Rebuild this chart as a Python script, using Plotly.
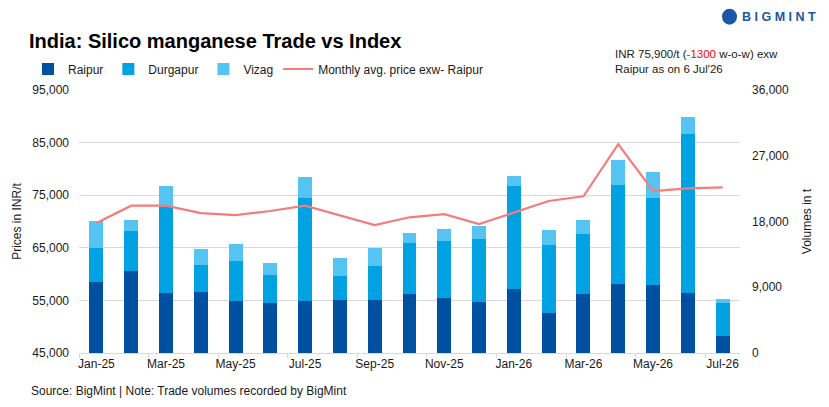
import plotly.graph_objects as go

months = ["Jan-25", "Feb-25", "Mar-25", "Apr-25", "May-25", "Jun-25", "Jul-25", "Aug-25",
          "Sep-25", "Oct-25", "Nov-25", "Dec-25", "Jan-26", "Feb-26", "Mar-26", "Apr-26",
          "May-26", "Jun-26", "Jul-26"]
raipur = [9730, 11230, 8230, 8370, 7140, 6860, 7140, 7270, 7270, 8090, 7550, 7000,
          8775, 5500, 8090, 9460, 9320, 8230, 2360]
durgapur = [4640, 5460, 11780, 3680, 5460, 3820, 14050, 3280, 4640, 6960, 7780, 8600,
            14055, 9280, 8190, 13510, 11870, 21700, 4500]
vizag = [3685, 1500, 2825, 2185, 2320, 1640, 2870, 2460, 2460, 1360, 1640, 1770,
         1365, 2050, 1910, 3410, 3550, 2320, 550]
price = [69700, 73000, 73000, 71600, 71200, 72000, 73000, 71150, 69300, 70800, 71400,
         69500, 71700, 73900, 74800, 84700, 75800, 76300, 76500]

price_ticks = [45000, 55000, 65000, 75000, 85000, 95000]
volume_ticks = [0, 9000, 18000, 27000, 36000]

x = list(range(len(months)))
FONT = "Liberation Sans"
TXT = "#1a1a1a"

fig = go.Figure()
for name, vals, col in [("Raipur", raipur, "#0050A2"),
                        ("Durgapur", durgapur, "#00A2E1"),
                        ("Vizag", vizag, "#55C4F2")]:
    fig.add_trace(go.Bar(x=x, y=vals, name=name, marker=dict(color=col, line=dict(width=0)),
                         width=0.4, yaxis="y"))
fig.add_trace(go.Scatter(x=x, y=price, name="Monthly avg. price exw- Raipur", mode="lines",
                         line=dict(color="#F47C7C", width=2.2), yaxis="y2"))

fig.update_layout(
    width=829, height=407,
    margin=dict(l=79, r=89, t=89.5, b=53.7, autoexpand=False),
    paper_bgcolor="white", plot_bgcolor="white",
    barmode="stack",
    font=dict(family=FONT, size=12, color=TXT),
    title=dict(text="<b>India: Silico manganese Trade vs Index</b>",
               font=dict(family=FONT, size=20, color="black"),
               xref="container", yref="container", x=29/829, xanchor="left",
               y=1-41/407, yanchor="middle"),
    legend=dict(orientation="h", xref="container", yref="container",
                x=28/829, xanchor="left", y=1-69/407, yanchor="middle",
                font=dict(size=12, color=TXT), traceorder="normal",
                itemwidth=30, tracegroupgap=0, bgcolor="rgba(0,0,0,0)"),
    xaxis=dict(range=[-0.5, 18.5], tickvals=x[::2], ticktext=months[::2],
               showgrid=False, ticks="", showline=True, linecolor="#D9D9D9", linewidth=1,
               tickfont=dict(size=12, color=TXT), zeroline=False,
               minor=dict(tickvals=[i - 0.5 for i in range(0, 20, 2)], ticks="outside",
                          ticklen=4, tickcolor="#D9D9D9", tickwidth=1, showgrid=False)),
    yaxis=dict(side="right", range=[0, 36000], tickvals=volume_ticks, tickformat=",",
               showgrid=False, zeroline=False, ticks="", tickfont=dict(size=12, color=TXT),
               ticklabelstandoff=11,
               title=dict(text="Volumes in t", font=dict(size=12, color=TXT), standoff=14)),
    yaxis2=dict(side="left", overlaying="y", range=[45000, 95000], tickvals=price_ticks,
                tickformat=",", showgrid=True, gridcolor="#D9D9D9", gridwidth=1,
                zeroline=False, ticks="", tickfont=dict(size=12, color=TXT),
                ticklabelstandoff=9,
                title=dict(text="Prices in INR/t", font=dict(size=12, color=TXT), standoff=8)),
    annotations=[
        dict(text="INR 75,900/t (<span style='color:#FF0000'>-1300</span> w-o-w) exw<br>Raipur as on 6 Jul'26",
             xref="paper", yref="paper", x=(613-79)/661, y=(353.3-45)/263.8,
             xanchor="left", yanchor="top", align="left", showarrow=False,
             font=dict(size=11.5, color=TXT)),
        dict(text="<b>B I G M I N T</b>", xref="paper", yref="paper",
             x=(740-79)/661, y=(353.3-16)/263.8, xanchor="left", yanchor="middle",
             showarrow=False, font=dict(size=12.5, color="#1B57A6")),
        dict(text="Source: BigMint | Note: Trade volumes recorded by BigMint",
             xref="paper", yref="paper", x=(29-79)/661, y=(353.3-391)/263.8,
             xanchor="left", yanchor="middle", showarrow=False,
             font=dict(size=12, color=TXT)),
    ],
    shapes=[dict(type="circle", xref="paper", yref="paper",
                 x0=(722-79)/661, x1=(737-79)/661,
                 y0=(353.3-24)/263.8, y1=(353.3-8)/263.8,
                 fillcolor="#1B57A6", line=dict(width=0))],
)

fig.write_html("out.html")
